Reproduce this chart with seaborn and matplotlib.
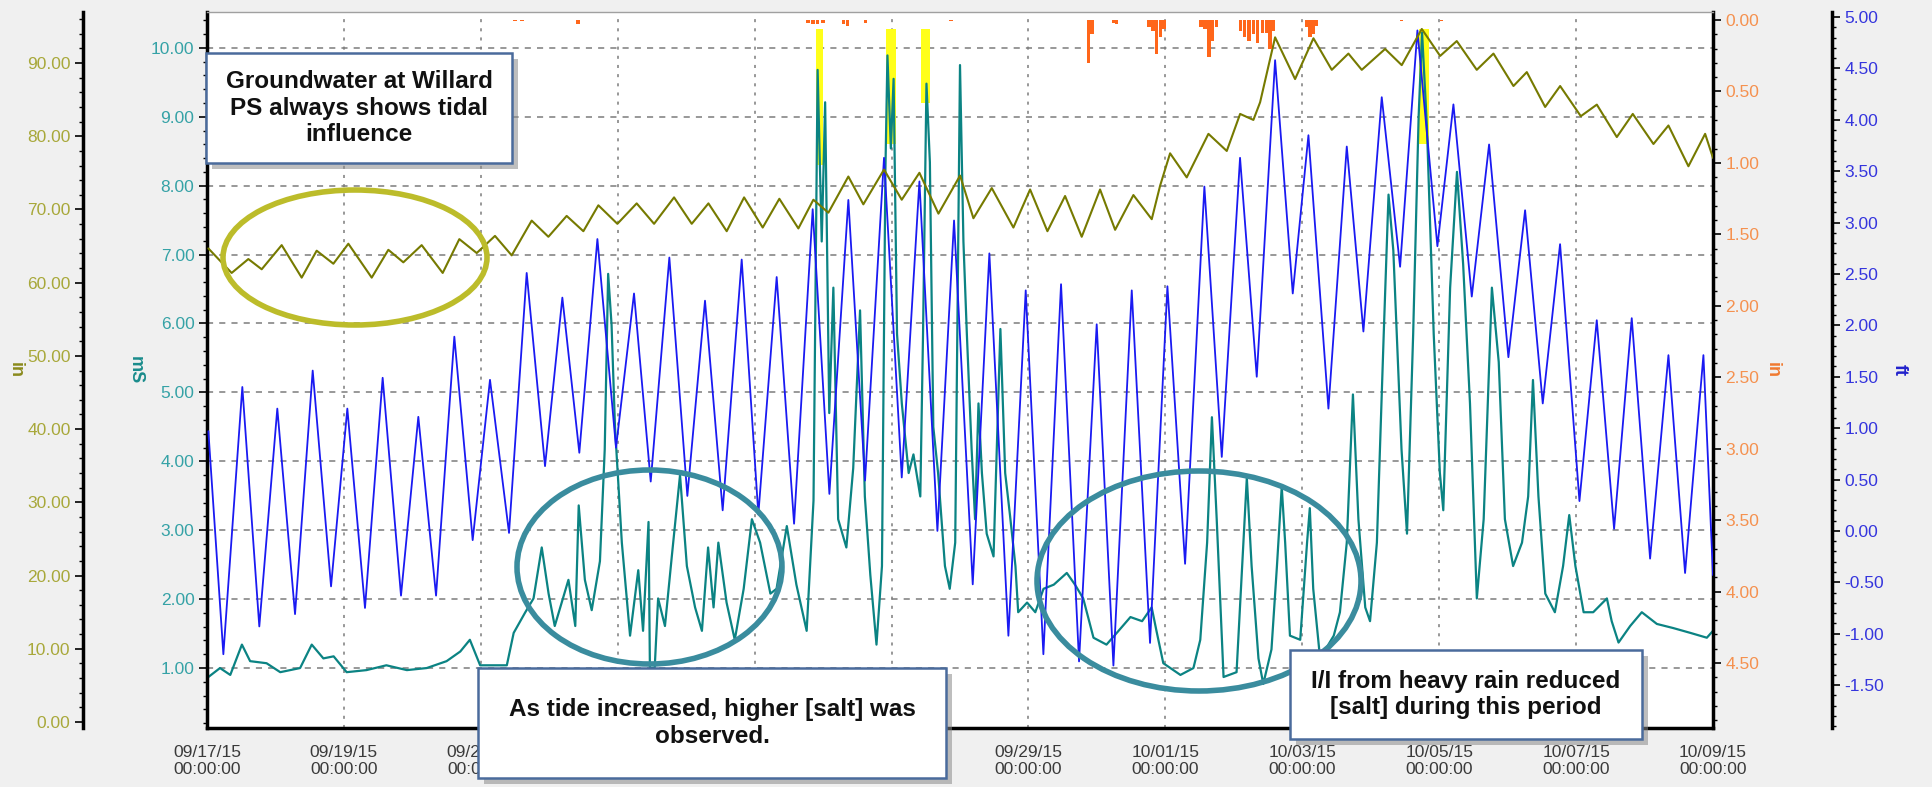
import pandas as pd
import matplotlib
matplotlib.use("Agg")
import matplotlib.pyplot as plt
from matplotlib.ticker import AutoMinorLocator, FormatStrFormatter, MultipleLocator
from matplotlib.patches import Ellipse, Rectangle
import seaborn as sns

START = pd.Timestamp("2015-09-17")

# --- data (days since 09/17/15 00:00) ---
# tide level, ft (blue) - highs and lows
tide_day = [0.02, 0.239, 0.516, 0.764, 1.027, 1.286, 1.544, 1.812, 2.050, 2.308, 2.566, 2.834,
            3.087, 3.346, 3.613, 3.881, 4.134, 4.412, 4.670, 4.938, 5.191, 5.439, 5.703, 5.975,
            6.238, 6.482, 6.754, 7.017, 7.275, 7.533, 7.811, 8.054, 8.322, 8.576, 8.848, 9.092,
            9.369, 9.613, 9.890, 10.149, 10.407, 10.670, 10.913, 11.186, 11.429, 11.707, 11.960,
            12.218, 12.476, 12.739, 12.997, 13.241, 13.509, 13.776, 14.030, 14.288, 14.570,
            14.824, 15.091, 15.335, 15.603, 15.861, 16.090, 16.382, 16.650, 16.893, 17.161,
            17.429, 17.682, 17.974, 18.208, 18.476, 18.729, 19.011, 19.255, 19.513, 19.766,
            20.049, 20.302, 20.555, 20.813, 21.081, 21.349, 21.592, 21.860, 22.0]
tide_ft = [0.97, -1.20, 1.40, -0.93, 1.19, -0.81, 1.56, -0.54, 1.19, -0.75, 1.49, -0.63,
           1.11, -0.63, 1.89, -0.09, 1.47, -0.02, 2.51, 0.63, 2.27, 0.76, 2.84, 0.81,
           2.31, 0.48, 2.66, 0.34, 2.24, 0.20, 2.64, 0.16, 2.47, 0.07, 3.13, 0.36,
           3.22, 0.49, 3.63, 0.52, 3.40, 0.00, 3.02, -0.52, 2.70, -1.02, 2.34,
           -1.20, 2.40, -1.27, 2.01, -1.31, 2.34, -1.09, 2.38, -0.32, 3.35,
           0.72, 3.63, 1.50, 4.58, 2.31, 3.85, 1.19, 3.74, 1.94, 4.22,
           2.57, 4.87, 2.77, 4.15, 2.28, 3.76, 1.69, 3.12, 1.24, 2.79,
           0.29, 2.05, 0.02, 2.07, -0.27, 1.71, -0.41, 1.71, -0.43]

# groundwater level, in (olive)
gw_day = [0.02, 0.360, 0.604, 0.799, 1.091, 1.383, 1.602, 1.846, 2.065, 2.406, 2.649, 2.868,
          3.136, 3.443, 3.686, 3.940, 4.207, 4.451, 4.743, 4.987, 5.254, 5.498,
          5.717, 5.995, 6.277, 6.531, 6.823, 7.081, 7.325, 7.592, 7.846, 8.118, 8.361,
          8.639, 8.858, 9.077, 9.369, 9.588, 9.890, 10.149, 10.407, 10.685, 11.001,
          11.196, 11.464, 11.780, 12.024, 12.277, 12.535, 12.778, 13.046, 13.266, 13.533,
          13.801, 13.923, 14.069, 14.312, 14.629, 14.897, 15.092, 15.286, 15.384, 15.603,
          15.895, 16.163, 16.431,
          16.674, 16.869, 17.210, 17.453, 17.746, 18.014, 18.257, 18.549, 18.793, 19.085,
          19.280, 19.548, 19.767, 20.069, 20.303, 20.595, 20.828, 21.130, 21.349, 21.641,
          21.885, 22.0]
gw_in = [64.68, 61.33, 63.23, 61.83, 65.13, 60.69, 64.37, 62.59, 65.32, 60.69, 64.49, 62.78,
         65.13, 61.33, 65.95, 64.05, 66.39, 63.73, 68.48, 66.27, 69.12, 67.03,
         70.57, 68.04, 70.83, 68.04, 71.65, 68.04, 70.83, 67.03, 71.65, 67.53, 71.46,
         67.41, 71.33, 69.56, 74.50, 70.70, 75.45, 71.33, 75.01, 69.43, 74.63,
         68.80, 72.92, 67.53, 72.73, 67.03, 71.84, 66.27, 72.73, 67.22, 71.97,
         68.67, 73.24, 77.67, 74.38, 80.33, 77.99, 83.05, 82.23, 84.64, 93.51,
         87.81, 93.38, 89.07,
         91.29, 89.07, 91.92, 89.71, 94.65, 90.97, 93.00, 89.07, 91.29, 86.86,
         88.76, 84.00, 86.86, 82.74, 84.32, 79.89, 83.05, 78.94, 81.47, 75.90,
         80.33, 77.04]

# conductivity, mS (teal)
cond_day = [0.02, 0.19, 0.34, 0.51, 0.63, 0.87, 1.07, 1.36, 1.53, 1.70, 1.85, 2.04, 2.33, 2.62,
            2.92, 3.21, 3.50, 3.70, 3.84, 3.99, 4.38, 4.48, 4.65, 4.77, 4.89, 4.99, 5.08, 5.28,
            5.38, 5.43,
            5.52, 5.62, 5.74, 5.81, 5.86, 5.91, 5.96, 6.06, 6.18, 6.30, 6.37, 6.45, 6.47, 6.54,
            6.59, 6.69, 6.79, 6.91, 7.01, 7.13, 7.23, 7.32, 7.40, 7.47, 7.59, 7.71, 7.84, 7.96,
            8.08, 8.23, 8.32, 8.47, 8.61, 8.76, 8.86, 8.92, 8.98, 9.03, 9.09, 9.15, 9.22, 9.34,
            9.44, 9.54, 9.61, 9.69, 9.78, 9.86, 9.91, 9.94, 9.99, 10.03, 10.08, 10.15, 10.25,
            10.32, 10.42, 10.46, 10.51, 10.56, 10.61, 10.68, 10.78, 10.85, 10.93, 11.00,
            11.05, 11.10, 11.17, 11.22, 11.27, 11.32, 11.39, 11.49, 11.59, 11.66, 11.73, 11.81,
            11.85, 11.98, 12.10, 12.22, 12.37, 12.56, 12.68, 12.80, 12.95, 13.14, 13.29, 13.49,
            13.66, 13.80, 13.87, 13.97, 14.22, 14.41, 14.51, 14.61, 14.68, 14.75, 14.85, 15.04,
            15.14, 15.19, 15.26, 15.36, 15.43, 15.55, 15.63, 15.70, 15.75, 15.82, 15.97, 16.07,
            16.11, 16.16, 16.26, 16.46,
            16.55, 16.65, 16.74, 16.82, 16.92, 16.99, 17.09, 17.19, 17.26, 17.33, 17.45, 17.53,
            17.62, 17.70, 17.75, 17.82, 17.92, 18.01, 18.06, 18.16, 18.26, 18.35, 18.45, 18.55,
            18.65, 18.77, 18.87, 18.96, 19.08, 19.21, 19.30, 19.37, 19.45, 19.55, 19.69, 19.81,
            19.90, 19.99, 20.11, 20.25, 20.45, 20.52, 20.62, 20.79, 20.96, 21.18, 21.42, 21.67,
            21.91, 22.00]
cond_ms = [0.87, 1.00, 0.90, 1.34, 1.10, 1.07, 0.94, 1.00, 1.34, 1.14, 1.17, 0.94, 0.97, 1.04,
           0.97, 1.00, 1.10, 1.24, 1.41, 1.04, 1.04, 1.51, 1.81, 2.01, 2.75, 2.08, 1.61, 2.28,
           1.61, 3.36,
           2.28, 1.84, 2.55, 4.17, 6.72, 5.98, 4.50, 2.82, 1.47, 2.42, 1.54, 3.12, 1.00, 1.00,
           2.01, 1.61, 2.62, 3.80, 2.48, 1.88, 1.54, 2.75, 1.88, 2.82, 1.95, 1.41, 2.15, 3.16,
           2.82, 2.08, 2.15, 3.06, 2.21, 1.54, 3.43, 9.68, 7.19, 9.21, 4.70, 6.52, 3.16, 2.75,
           3.90, 6.19, 3.49, 2.35, 1.34, 2.48, 8.20, 9.89, 8.54, 9.55, 5.85, 4.84, 3.83,
           4.10, 3.49, 5.85, 9.48, 8.34, 4.50, 3.83, 2.48, 2.15, 2.82, 9.75,
           7.19, 5.85, 4.17, 3.16, 4.84, 3.83, 2.95, 2.62, 5.92, 3.83, 3.22, 2.48,
           1.81, 1.95, 1.81, 2.15, 2.21, 2.38, 2.21, 2.01, 1.44, 1.34, 1.51, 1.74,
           1.68, 1.88, 1.54, 1.07, 0.90, 1.00, 1.41, 2.82, 4.64, 3.16, 0.87, 0.94,
           2.82, 3.76, 2.48, 1.14, 0.77, 1.27, 2.48, 3.63, 2.82, 1.47, 1.41, 2.82,
           3.32, 2.15, 1.14, 1.47,
           1.81, 2.82, 4.97, 3.16, 1.88, 1.68, 2.82, 5.85, 7.87, 7.06, 4.17, 2.95,
           5.85, 9.01, 10.22, 8.88, 5.85, 3.83, 3.29, 6.52, 8.20, 6.86, 4.84, 2.01,
           3.16, 6.52, 5.44, 3.16, 2.48, 2.82, 3.49, 5.18, 3.49, 2.08, 1.81, 2.48,
           3.22, 2.48, 1.81, 1.81, 2.01, 1.68, 1.37, 1.61, 1.81, 1.64, 1.58, 1.51,
           1.44, 1.54]

# yellow overflow spans on the mS scale
yellow_start = [8.89, 9.92, 10.43, 17.70]
yellow_end = [9.00, 10.06, 10.56, 17.85]
yellow_low = [8.30, 8.60, 9.20, 8.61]
yellow_top = 10.28

# rainfall, in (orange, hanging from top)
rain_day = [4.50, 4.60, 5.42, 8.78, 8.85, 8.92, 9.00, 9.30, 9.36, 9.62, 10.87, 12.88, 12.93,
            13.24, 13.29, 13.76, 13.82, 13.87, 13.93, 13.98, 14.52, 14.58, 14.64, 14.69, 14.75,
            15.10, 15.16, 15.22, 15.29, 15.35, 15.42, 15.48, 15.53, 15.58, 16.06, 16.11, 16.16,
            16.21, 17.45, 18.03]
rain_in = [0.01, 0.01, 0.03, 0.02, 0.03, 0.03, 0.02, 0.03, 0.04, 0.02, 0.01, 0.30, 0.10,
           0.02, 0.03, 0.05, 0.08, 0.24, 0.12, 0.06, 0.05, 0.06, 0.26, 0.15, 0.05,
           0.08, 0.12, 0.15, 0.10, 0.16, 0.09, 0.09, 0.20, 0.08, 0.05, 0.12, 0.10,
           0.04, 0.01, 0.01]

tick_dates = pd.date_range("2015-09-17", "2015-10-09", freq="2D")


def to_time(days):
    return START + pd.to_timedelta(days, unit="D")


# --- style ---
sns.set_style("white")
plt.rcParams["font.family"] = ["Liberation Sans", "DejaVu Sans"]

C_BLUE = "#1a1af2"
C_TEAL = "#0b8383"
C_OLIVE = "#767a00"
C_RAIN = "#ff661a"
C_YELLOW = "#ffff1a"

W, H = 1933, 787
fig = plt.figure(figsize=(W / 100, H / 100), dpi=100, facecolor="#f0f0f0")
ax = fig.add_axes([207 / W, 1 - 728 / H, 1506 / W, 716 / H])
ax.set_facecolor("white")
ax_ft = ax.twinx()
ax_gw = ax.twinx()
ax_rain = ax.twinx()

# yellow + conductivity on the host (mS)
for s, e, lo in zip(yellow_start, yellow_end, yellow_low):
    ax.fill_between(to_time([s, e]), [lo, lo], [yellow_top, yellow_top], color=C_YELLOW, lw=0)
sns.lineplot(x=to_time(cond_day), y=cond_ms, ax=ax, color=C_TEAL, linewidth=1.6,
             estimator=None, sort=False)
sns.lineplot(x=to_time(tide_day), y=tide_ft, ax=ax_ft, color=C_BLUE, linewidth=1.3,
             estimator=None, sort=False)
sns.lineplot(x=to_time(gw_day), y=gw_in, ax=ax_gw, color=C_OLIVE, linewidth=1.5,
             estimator=None, sort=False)
ax_rain.bar(to_time(rain_day), rain_in, width=0.05, color=C_RAIN, linewidth=0)

# limits
ax.set_xlim(START, START + pd.Timedelta(days=22))
ax.set_ylim(0.13, 10.52)
ax_ft.set_ylim(-1.918, 5.049)
ax_gw.set_ylim(-0.82, 96.97)
ax_rain.set_ylim(4.955, -0.056)

# x axis
ax.set_xticks(tick_dates)
ax.set_xticklabels([d.strftime("%m/%d/%y") + "\n00:00:00" for d in tick_dates])
ax.xaxis.set_minor_locator(AutoMinorLocator(5))
ax.tick_params(axis="x", which="major", direction="out", length=7, width=1.2, color="black",
               labelsize=12.5, labelcolor="#3a3a3a", pad=5)
ax.tick_params(axis="x", which="minor", direction="out", length=4, width=1, color="black")
ax.set_xlabel("")

# grid
ax.yaxis.grid(True, linestyle=(0, (4, 4)), color="#7c7c7c", linewidth=1.1)
ax.xaxis.grid(True, linestyle=(0, (2, 4)), color="#7c7c7c", linewidth=1.1)
ax.set_axisbelow(True)

# spines
for a in (ax_ft, ax_gw, ax_rain):
    for s in a.spines.values():
        s.set_visible(False)
ax.spines["top"].set_color("#a0a0a0")
ax.spines["top"].set_linewidth(1)
for side in ("left", "right", "bottom"):
    ax.spines[side].set_color("black")
    ax.spines[side].set_linewidth(2.5)

ax_ft.spines["right"].set_visible(True)
ax_ft.spines["right"].set_position(("axes", 1.079))
ax_ft.spines["right"].set_linewidth(2.5)
ax_ft.spines["right"].set_color("black")

ax_gw.yaxis.tick_left()
ax_gw.yaxis.set_label_position("left")
ax_gw.spines["left"].set_visible(True)
ax_gw.spines["left"].set_position(("axes", -0.0823))
ax_gw.spines["left"].set_linewidth(2.5)
ax_gw.spines["left"].set_color("black")


def style_y(a, step, lbl_color):
    a.yaxis.set_major_locator(MultipleLocator(step))
    a.yaxis.set_minor_locator(AutoMinorLocator(5))
    a.yaxis.set_major_formatter(FormatStrFormatter("%.2f"))
    a.tick_params(axis="y", which="major", direction="out", length=6, width=1.2,
                  color="black", labelcolor=lbl_color, labelsize=12.5, pad=3)
    a.tick_params(axis="y", which="minor", direction="out", length=3, width=1, color="black")


style_y(ax, 1, "#35a2a6")
style_y(ax_ft, 0.5, "#3535dd")
style_y(ax_gw, 10, "#a8a83a")
style_y(ax_rain, 0.5, "#f5914f")

lab = dict(fontsize=13, fontweight="bold", rotation=270, va="center", ha="center")
ax.set_ylabel("mS", color="#1a8c8c", **lab)
ax.yaxis.set_label_coords(-0.0478, 0.5)
ax_gw.set_ylabel("in", color="#8a8a1c", **lab)
ax_gw.yaxis.set_label_coords(-0.1275, 0.5)
ax_rain.set_ylabel("in", color="#f07a30", **lab)
ax_rain.yaxis.set_label_coords(1.0392, 0.5)
ax_ft.set_ylabel("ft", color="#2222cc", **lab)
ax_ft.yaxis.set_label_coords(1.124, 0.5)


# --- annotations (figure pixel coords) ---
def px(x, y):
    return x / W, 1 - y / H


def ellipse(cx, cy, w, h, color):
    fig.add_artist(Ellipse(px(cx, cy), w / W, h / H, transform=fig.transFigure,
                           fill=False, edgecolor=color, linewidth=4, zorder=5))


ellipse(355, 257.5, 264, 135, "#bcbc2a")
ellipse(649.5, 567, 265, 194, "#3a8c9e")
ellipse(1199, 581, 324, 220, "#3a8c9e")


def note(x0, y0, x1, y1, text):
    sx, sy = px(x0 + 6, y1 + 6)
    fig.add_artist(Rectangle((sx, sy), (x1 - x0) / W, (y1 - y0) / H, transform=fig.transFigure,
                             facecolor="#8a8a8a", edgecolor="none", alpha=0.55, zorder=9))
    bx, by = px(x0, y1)
    fig.add_artist(Rectangle((bx, by), (x1 - x0) / W, (y1 - y0) / H, transform=fig.transFigure,
                             facecolor="white", edgecolor="#4a6b9c", linewidth=1.8, zorder=10))
    tx, ty = px((x0 + x1) / 2, (y0 + y1) / 2)
    fig.text(tx, ty, text, ha="center", va="center", fontsize=17.5, fontweight="bold",
             color="#111111", linespacing=1.2, zorder=11)


note(206, 53, 512, 163, "Groundwater at Willard\nPS always shows tidal\ninfluence")
note(478, 668, 946, 778, "As tide increased, higher [salt] was\nobserved.")
note(1290, 650, 1642, 739, "I/I from heavy rain reduced\n[salt] during this period")

fig.savefig("out.png", dpi=100, facecolor=fig.get_facecolor())
